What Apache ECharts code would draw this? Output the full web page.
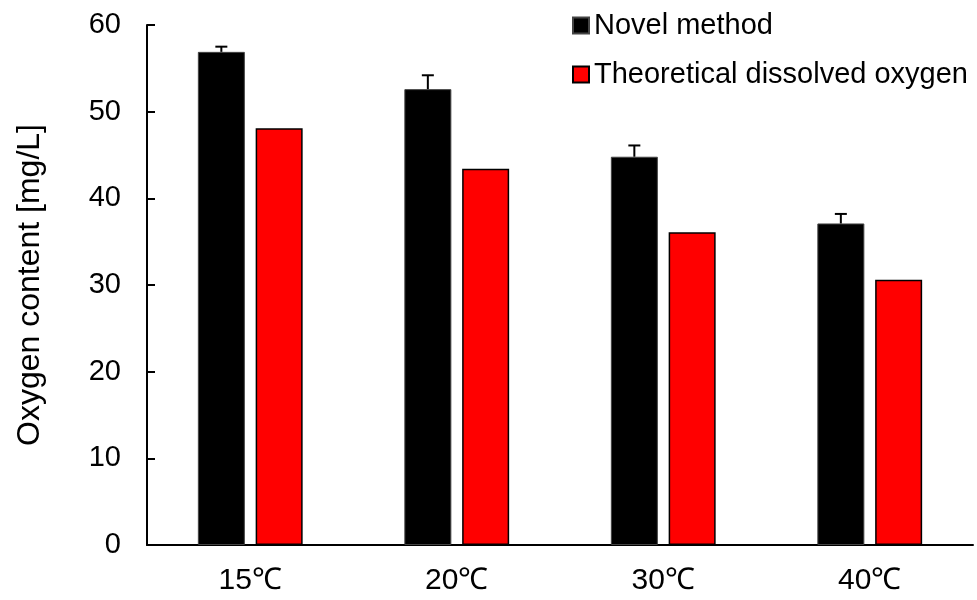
<!DOCTYPE html>
<html>
<head>
<meta charset="utf-8">
<script src="https://cdn.jsdelivr.net/npm/echarts@6/dist/echarts.min.js"></script>
<style>html,body{margin:0;padding:0;background:#fff;}#c{width:977px;height:600px;}</style>
</head>
<body>
<div id="c"></div>
<script>
var categories = ['15\u2103', '20\u2103', '30\u2103', '40\u2103'];
var novelMethod = [56.9, 52.6, 44.8, 37.1];
var novelError = [0.6, 1.6, 1.3, 1.1];
var theoretical = [48.1, 43.4, 36.1, 30.6];
var yTicks = [0, 10, 20, 30, 40, 50, 60];

var FONT = "'Liberation Sans', Arial, sans-serif";
var BAR_W = 47, GAP_RATIO = 0.23;

var chart = echarts.init(document.getElementById('c'));
var errData = categories.map(function (c, i) { return [i, novelMethod[i], novelMethod[i] + novelError[i]]; });

chart.setOption({
  animation: false,
  backgroundColor: '#fff',
  grid: { left: 147, right: 4, top: 25, bottom: 55 },
  legend: {
    orient: 'vertical', left: 567, top: 6,
    itemWidth: 16, itemHeight: 16, itemGap: 20,
    icon: 'rect',
    textStyle: { fontFamily: FONT, fontSize: 29, color: '#000' },
    data: ['Novel method', 'Theoretical dissolved oxygen']
  },
  xAxis: {
    type: 'category', data: categories,
    axisLine: { lineStyle: { color: '#000', width: 2 } },
    axisTick: { inside: true, length: 8, lineStyle: { color: '#000', width: 2 } },
    axisLabel: { fontFamily: FONT, fontSize: 30, color: '#000', margin: 21 }
  },
  yAxis: {
    type: 'value', min: yTicks[0], max: yTicks[yTicks.length - 1], interval: 10,
    name: 'Oxygen content [mg/L]', nameLocation: 'middle', nameGap: 101,
    nameTextStyle: { fontFamily: FONT, fontSize: 32, color: '#000' },
    axisLine: { show: true, lineStyle: { color: '#000', width: 2 } },
    axisTick: { show: true, inside: true, length: 8, lineStyle: { color: '#000', width: 2 } },
    axisLabel: { fontFamily: FONT, fontSize: 29, color: '#000', margin: 26 },
    splitLine: { show: false }
  },
  series: [
    {
      name: 'Novel method', type: 'bar', data: novelMethod,
      barWidth: BAR_W, barGap: (GAP_RATIO * 100) + '%',
      itemStyle: { color: '#000', borderColor: '#444', borderWidth: 1 }
    },
    {
      name: 'Theoretical dissolved oxygen', type: 'bar', data: theoretical,
      barWidth: BAR_W,
      itemStyle: { color: '#ff0000', borderColor: '#000', borderWidth: 1.5 }
    },
    {
      type: 'custom', data: errData, z: 5,
      renderItem: function (params, api) {
        var base = api.coord([api.value(0), api.value(1)]);
        var top = api.coord([api.value(0), api.value(2)]);
        var off = (BAR_W + BAR_W * GAP_RATIO) / 2;
        var x = base[0] - off;
        return {
          type: 'group',
          children: [
            { type: 'line', shape: { x1: x, y1: base[1], x2: x, y2: top[1] }, style: { stroke: '#000', lineWidth: 2 } },
            { type: 'line', shape: { x1: x - 6, y1: top[1], x2: x + 6, y2: top[1] }, style: { stroke: '#000', lineWidth: 2 } }
          ]
        };
      }
    }
  ]
});
</script>
</body>
</html>
